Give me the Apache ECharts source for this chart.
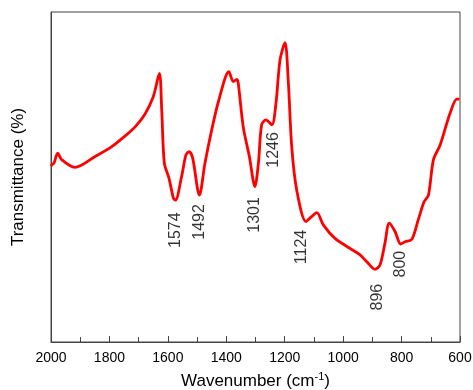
<!DOCTYPE html>
<html>
<head>
<meta charset="utf-8">
<script src="https://cdn.jsdelivr.net/npm/echarts@6/dist/echarts.min.js"></script>
<style>html,body{margin:0;padding:0;background:#fff}#c{width:473px;height:390px}</style>
</head>
<body>
<div id="c"></div>
<script>
const wavenumbers = [2000,1998,1990,1977,1963,1918,1849,1792,1747,1712,1678,1650,1629,1621,1612,1596,1581,1574,1553,1538,1527,1515,1492,1473,1450,1427,1391,1376,1364,1359,1342,1321,1302,1290,1279,1264,1244,1230,1216,1199,1188,1176,1159,1127,1108,1090,1068,1028,977,942,919,891,874,857,842,822,803,788,765,743,723,708,691,668,634,611,602];
const transmittance = [53.3,53.6,54.2,57.2,55.2,52.9,56.2,59.2,62.4,65.2,69.1,74.3,81.4,70.3,54.2,49.6,43.6,43.0,50.1,56.7,57.7,55.7,44.5,54.2,64.2,72.8,81.9,78.9,79.6,78.4,65.2,56.2,47.1,54.2,65.8,67.3,65.8,72.3,85.5,90.7,79.4,59.2,46.1,36.5,38.0,39.2,35.5,31.4,28.4,26.4,24.3,22.0,23.3,29.9,36.0,33.4,29.7,30.4,31.1,37.0,42.5,44.5,55.2,59.7,69.3,73.6,73.6];
const peakLabels = ['1574','1492','1301','1246','1124','896','800'];
const peakX = [1572,1490,1303,1238,1141,881,805];
const peakY = [33.9,36.4,38.5,58.2,28.8,13.6,23.6];
const xTicks = {min:600, max:2000, interval:200};

const font = 'Liberation Sans, Arial, Helvetica, sans-serif';
const chart = echarts.init(document.getElementById('c'));
chart.setOption({
  animation:false,
  backgroundColor:'#fff',
  grid:{left:51,right:13,top:12,bottom:48,show:true,borderColor:'#444',borderWidth:1,outerBoundsMode:'none',containLabel:false},
  xAxis:{
    type:'value', inverse:true, min:xTicks.min, max:xTicks.max, interval:xTicks.interval,
    axisLine:{show:true,lineStyle:{color:'#444',width:1}},
    axisTick:{show:true,inside:true,length:6,lineStyle:{color:'#444'}},
    minorTick:{show:true,splitNumber:2,length:5,lineStyle:{color:'#444'}},
    splitLine:{show:false},
    axisLabel:{color:'#000',fontSize:14,fontFamily:font,margin:9,formatter:v=>String(v)},
    name:'Wavenumber (cm{sup|-1})', nameLocation:'middle', nameGap:29,
    nameTextStyle:{color:'#000',fontSize:17,fontFamily:font,
      rich:{sup:{fontSize:11,fontFamily:font,color:'#000',padding:[0,0,9,0]}}}
  },
  yAxis:{
    type:'value', min:0, max:100,
    axisLine:{show:true,lineStyle:{color:'#444',width:1}},
    axisTick:{show:false}, axisLabel:{show:false}, splitLine:{show:false},
    name:'Transmittance (%)', nameLocation:'middle', nameGap:24,
    nameTextStyle:{color:'#000',fontSize:17,fontFamily:font}
  },
  series:[
    {type:'line', data:wavenumbers.map((w,i)=>[w,transmittance[i]]), showSymbol:false, smooth:0.3,
     lineStyle:{color:'#ff0000',width:2.8}, itemStyle:{color:'#ff0000'}, z:3},
    {type:'scatter', data:peakX.map((x,i)=>[x,peakY[i],peakLabels[i]]), symbolSize:0,
     label:{show:true,position:'inside',rotate:90,formatter:p=>p.value[2],color:'#000',fontSize:16,fontFamily:font}, silent:true}
  ]
});
</script>
</body>
</html>
